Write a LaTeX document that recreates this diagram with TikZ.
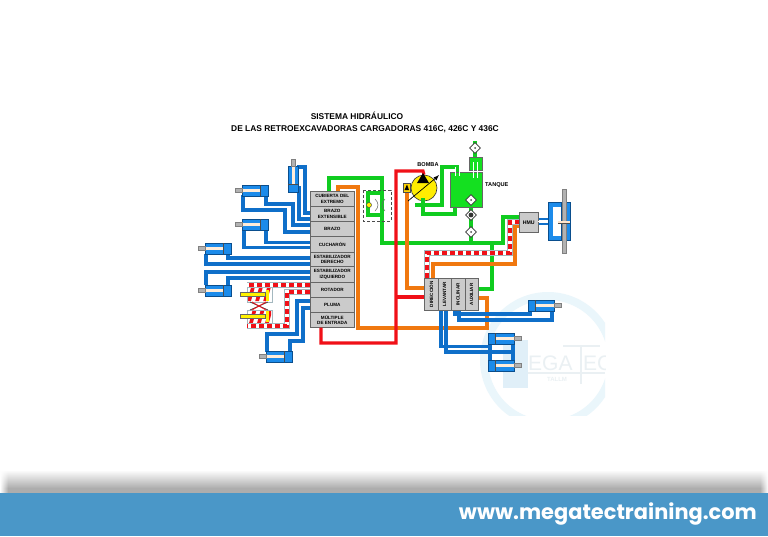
\documentclass[tikz,border=0pt]{standalone}
\usepackage{fontspec}
\setmainfont{Liberation Sans}
\newfontfamily\webfont{Poppins}
\usetikzlibrary{shapes.geometric,fadings}
\definecolor{hblue}{HTML}{0F6FC9}
\definecolor{cblue}{HTML}{1C8BEA}
\definecolor{hgreen}{HTML}{10CC20}
\definecolor{tankg}{HTML}{14E020}
\definecolor{hred}{HTML}{F01018}
\definecolor{horange}{HTML}{F0780F}
\definecolor{hgrey}{HTML}{CBCBCB}
\definecolor{band}{HTML}{4A97C8}
\definecolor{wmark}{HTML}{EAF6FB}
\definecolor{wmtext}{HTML}{EAF0F3}
\definecolor{wmbox}{HTML}{E0EFF8}
\definecolor{hatchedge}{HTML}{A4B8BF}
\tikzset{
  x=1pt,y=-1pt,
  pipe/.style={line width=3.1pt,line join=miter},
  bluepipe/.style={pipe,hblue},
  greenpipe/.style={pipe,hgreen},
  redpipe/.style={pipe,hred},
  orangepipe/.style={pipe,horange},
  hatchout/.style={line width=5.4pt,color=hatchedge},
  hatchin/.style={line width=3.4pt,white},
  hatchred/.style={line width=3.4pt,hred,dash pattern=on 5pt off 3pt},
  rowbox/.style={draw=black!60,line width=.6pt,fill=hgrey,minimum width=44pt,anchor=north west,inner sep=0pt,align=center,font=\fontsize{4.6}{5.6}\selectfont\bfseries},
  colbox/.style={draw=black!60,line width=.6pt,fill=hgrey,minimum width=13.5pt,minimum height=32pt,anchor=north west,inner sep=0pt},
  coltext/.style={rotate=90,font=\fontsize{4.6}{5}\selectfont\bfseries,inner sep=0pt},
  cylb/.style={draw=hblue!70!black,line width=.6pt,fill=cblue,anchor=north west,inner sep=0pt},
  filter/.style={diamond,draw=black!80,line width=.7pt,fill=white,minimum size=11pt,inner sep=0pt},
  lbl/.style={font=\fontsize{5.6}{6}\selectfont\bfseries,inner sep=0pt},
}
% horizontal cylinder, rod leaving to the left: name, x, y of the body
\newcommand\cylL[3]{%
  \node[cylb,minimum width=26pt,minimum height=11pt] (#1) at (#2,#3) {};
  \fill[white!85!orange] (#2-1,#3+4) rectangle (#2+18,#3+7);
  \fill[black!70] (#2+18,#3) rectangle (#2+19,#3+11);
  \fill[gray!60] (#2-7,#3+3.5) rectangle (#2,#3+7.5);
  \draw[black!50,line width=.3pt] (#2-7,#3+3.5) rectangle (#2,#3+7.5);
}
% horizontal cylinder, rod leaving to the right
\newcommand\cylR[3]{%
  \node[cylb,minimum width=26pt,minimum height=11pt] (#1) at (#2,#3) {};
  \fill[white!85!orange] (#2+8,#3+4) rectangle (#2+27,#3+7);
  \fill[black!70] (#2+7,#3) rectangle (#2+8,#3+11);
  \fill[gray!60] (#2+26,#3+3.5) rectangle (#2+33,#3+7.5);
  \draw[black!50,line width=.3pt] (#2+26,#3+3.5) rectangle (#2+33,#3+7.5);
}
\newcommand\hatchline[1]{%
  \draw[hatchout] #1;
  \draw[hatchin] #1;
  \draw[hatchred] #1;
}
\begin{document}
\begin{tikzpicture}
\useasboundingbox (0,0) rectangle (768,536);
\fill[white] (0,0) rectangle (768,536);

% watermark
\begin{scope}
\clip (470,280) rectangle (605,415);
\draw[wmark,line width=8pt] (548,360) circle[radius=64];
\fill[wmbox] (503,340) rectangle (528,388);
\node[wmtext,font=\fontsize{21}{21}\selectfont,anchor=west,inner sep=0pt] (wm1) at (528,363) {EGA};
\node[wmtext,font=\fontsize{21}{21}\selectfont,anchor=west,inner sep=0pt] (wm2) at (583,363) {EC};
\fill[wmtext] (563,345) rectangle (600,347);
\fill[wmtext] (580,347) rectangle (582,384);
\fill[wmtext] (528,372) rectangle (605,374);
\node[wmtext,font=\fontsize{6}{6}\selectfont\bfseries,inner sep=0pt] (wm3) at (557,379) {TALLM};
\end{scope}

% title
\node[font=\fontsize{8.4}{9}\selectfont\bfseries,inner sep=0pt] (t1) at (357,116) {SISTEMA HIDRÁULICO};
\node[font=\fontsize{8.4}{9}\selectfont\bfseries,inner sep=0pt] (t2) at (365,129) {DE LAS RETROEXCAVADORAS CARGADORAS 416C, 426C Y 436C};

% main valve block
\node[rowbox,minimum height=15pt] (r1) at (310,191) {CUBIERTA DEL\\EXTREMO};
\node[rowbox,minimum height=15pt] (r2) at (310,206) {BRAZO\\EXTENSIBLE};
\node[rowbox,minimum height=15pt] (r3) at (310,221) {BRAZO};
\node[rowbox,minimum height=16pt] (r4) at (310,236) {CUCHARÓN};
\node[rowbox,minimum height=14pt] (r5) at (310,252) {ESTABILIZADOR\\DERECHO};
\node[rowbox,minimum height=16pt] (r6) at (310,266) {ESTABILIZADOR\\IZQUIERDO};
\node[rowbox,minimum height=15pt] (r7) at (310,282) {ROTADOR};
\node[rowbox,minimum height=15pt] (r8) at (310,297) {PLUMA};
\node[rowbox,minimum height=15pt] (r9) at (310,312) {MÚLTIPLE\\DE ENTRADA};

% loader valve block
\node[colbox] (d1) at (424,278) {};
\node[colbox] (d2) at (437.5,278) {};
\node[colbox] (d3) at (451,278) {};
\node[colbox] (d4) at (464.5,278) {};
\node[coltext] (d1t) at (d1.center) {DIRECCIÓN};
\node[coltext] (d2t) at (d2.center) {LEVANTAR};
\node[coltext] (d3t) at (d3.center) {INCLINAR};
\node[coltext] (d4t) at (d4.center) {AUXILIAR};

% tank and pump
\node[draw=black!60,line width=.5pt,fill=tankg,minimum width=32pt,minimum height=35pt,anchor=north west,inner sep=0pt] (tank) at (450,172) {};
\node[draw=black!60,line width=.5pt,fill=tankg,minimum width=13pt,minimum height=13pt,anchor=north west,inner sep=0pt] (breath) at (469,157) {};
\node[circle,draw=black!80,line width=.6pt,fill=yellow!95!orange,minimum size=26pt,inner sep=0pt] (pump) at (424,188) {};
\node[draw=black!70,line width=.5pt,fill=yellow!70!orange,minimum width=7pt,minimum height=9pt,anchor=north west,inner sep=0pt] (aux) at (403,183) {};
\node[draw=black!60,line width=.6pt,fill=hgrey,minimum width=19pt,minimum height=20pt,anchor=north west,inner sep=0pt,font=\fontsize{5.2}{6}\selectfont\bfseries] (hmu) at (519,212) {HMU};

% green lines
\draw[greenpipe] (r1.north -| 329,0) -- (329,178) -- (382,178) -- (382,243) -- (503,243) -- (503,217) -- (hmu.west |- 0,217);
\draw[greenpipe] (492,243) -- (492,289) -- (d4.east |- 0,289);
\draw[greenpipe] (382,193) -- (368,193) -- (368,215) -- (382,215);
\draw[greenpipe] (415,205) -- (442,205) -- (442,167) -- (457,167) -- (tank.north -| 457,0);
\draw[greenpipe] (423,198) -- (423,214) -- (455,214) -- (tank.south -| 455,0);
\draw[greenpipe] (471,243) -- (tank.south -| 471,0);
\draw[greenpipe] (475,141) -- (breath.north -| 475,0);
\draw[white,line width=.8pt] (455,167) -- (455,176) (459,167) -- (459,176);
\draw[white,line width=.8pt] (473,162) -- (473,178) (477,162) -- (477,178);

% orange lines
\draw[orangepipe] (r1.north -| 338,0) -- (338,187) -- (358,187) -- (358,328) -- (487,328) -- (487,298) -- (d4.east |- 0,298);
\draw[orangepipe] (aux.south -| 407,0) -- (407,288) -- (d1.west |- 0,288);
\draw[orangepipe] (d1.north -| 433,0) -- (433,264) -- (515,264) -- (515,226) -- (hmu.west |- 0,226);

% hatched line to steering
\hatchline{(d1.north -| 427,0) -- (427,253) -- (510,253) -- (510,222) -- (hmu.west |- 0,222)}

% red lines
\draw[redpipe] (r9.south -| 321,0) -- (321,343) -- (396,343) -- (396,171) -- (423,171) -- (pump.north);
\draw[redpipe] (396,297) -- (d1.west |- 0,297);

% blue lines and cylinders, left of the block
\draw[bluepipe] (297,167) -- (305,167) -- (305,213) -- (r2.west |- 0,213);
\draw[bluepipe] (297,188) -- (299,188) -- (299,219) -- (r2.west |- 0,219);
\draw[bluepipe] (266,195) -- (266,204) -- (293,204) -- (293,225) -- (r3.west |- 0,225);
\draw[bluepipe] (243,195) -- (243,210) -- (285,210) -- (285,232) -- (r3.west |- 0,232);
\draw[bluepipe] (266,230) -- (266,242.5) -- (r4.west |- 0,242.5);
\draw[bluepipe] (244,230) -- (244,247.5) -- (r4.west |- 0,247.5);
\draw[bluepipe] (228,254) -- (228,258) -- (r5.west |- 0,258);
\draw[bluepipe] (206,254) -- (206,264) -- (r5.west |- 0,264);
\draw[bluepipe] (206,285) -- (206,272) -- (r6.west |- 0,272);
\draw[bluepipe] (228,285) -- (228,278) -- (r6.west |- 0,278);
\draw[bluepipe] (r8.west |- 0,301) -- (297,301) -- (297,334) -- (267,334) -- (267,352);
\draw[bluepipe] (r8.west |- 0,308) -- (303,308) -- (303,341) -- (290,341) -- (290,352);

\cylL{c2}{242}{185}
\cylL{c3}{242}{219}
\cylL{c4}{205}{243}
\cylL{c5}{205}{285}
\cylL{c6}{266}{351}

% vertical cylinder with the rod on top
\node[cylb,minimum width=10pt,minimum height=26pt] (c1) at (288,166) {};
\fill[white!85!orange] (291.5,165) rectangle (294.5,184);
\fill[black!70] (288,184) rectangle (298,185);
\fill[gray!60] (291,159) rectangle (295,166);
\draw[black!50,line width=.3pt] (291,159) rectangle (295,166);

% blue lines to the right
\draw[bluepipe] (d2.south -| 441,0) -- (441,346.5) -- (490,346.5);
\draw[bluepipe] (d2.south -| 446,0) -- (446,352) -- (513,352);
\draw[bluepipe] (490,344) -- (490,361);
\draw[bluepipe] (513,344) -- (513,361);
\draw[bluepipe] (d3.south -| 455,0) -- (455,314) -- (530,314) -- (530,310);
\draw[bluepipe] (d3.south -| 459,0) -- (459,320) -- (552,320) -- (552,310);
\cylR{c7}{488}{333}
\cylR{c8}{488}{360}
\cylR{c9}{528}{300}

% steering cylinder
\draw[bluepipe,line width=2.5pt] (hmu.east |- 0,219) -- (551,219);
\draw[bluepipe,line width=2.5pt] (hmu.east |- 0,224) -- (551,224);
\fill[white] (538,221) rectangle (550,222);
\node[cylb,minimum width=13pt,minimum height=38pt] (s1) at (548,202) {};
\node[cylb,minimum width=5pt,minimum height=38pt] (s2) at (565,202) {};
\fill[white] (552.5,207) rectangle (561,236);
\fill[gray!60] (562.5,189) rectangle (566.5,253);
\draw[black!50,line width=.3pt] (562.5,189) rectangle (566.5,253);
\fill[white!80!orange] (558,220.5) rectangle (570,222.5);
\fill[black!70] (558,222.5) rectangle (570,223);

% filters
\node[filter] (f1) at (471,200) {};
\node[filter] (f2) at (471,215) {};
\node[filter] (f3) at (471,232) {};
\node[filter] (f4) at (475,148) {};
\foreach \n in {f1,f3,f4} \fill[black!70] (\n.center) circle[radius=1];
\fill[black!80] (f2.center) circle[radius=2.4];

% pump details
\fill[black] (423,173) -- (417,183) -- (429,183) -- cycle;
\draw[black,line width=.7pt] (408,201) -- (437,177);
\draw[black,line width=.9pt,-latex] (436,178) -- (439,175);
\fill[black] (407,184.5) -- (404.5,190) -- (409,190) -- cycle;
\node[lbl] (bomba) at (428,165) {BOMBA};
\node[lbl,anchor=west] (tanque) at (485,185) {TANQUE};

% small valve
\draw[black!70,line width=.7pt,dash pattern=on 3pt off 2pt] (363,190) rectangle (391,221);
\node[circle,draw=black!70,line width=.5pt,fill=yellow,minimum size=5pt,inner sep=0pt] (v1) at (369,205) {};
\draw[black!60,line width=.5pt] (375,199) .. controls (379,203) and (379,207) .. (375,211);
\draw[black!60,line width=.5pt] (385,199) .. controls (381,203) and (381,207) .. (385,211);

% rotator
\node[draw=hatchedge,line width=.7pt,fill=white,minimum width=25pt,minimum height=17pt,anchor=north west,inner sep=0pt] (rc1) at (247,285) {};
\node[draw=hatchedge,line width=.7pt,fill=white,minimum width=25pt,minimum height=16pt,anchor=north west,inner sep=0pt] (rc2) at (247,310) {};
\begin{scope}
\clip (248,286) rectangle (271,301) (248,311) rectangle (271,325);
\foreach \i in {0,8,...,72} \draw[hred,line width=3.6pt] (225+\i,330) -- (225+\i+14,280);
\end{scope}
\draw[black!70,line width=.8pt] (250,302) -- (268,310) (268,302) -- (250,310);
\draw[hred,line width=.8pt] (252,302) -- (266,310) (266,302) -- (252,310);
\fill[yellow] (240,292) rectangle (267,296);
\fill[yellow] (240,314) rectangle (267,318);
\fill[yellow] (265.5,290) rectangle (268.5,301);
\fill[yellow] (265.5,311) rectangle (268.5,322);
\draw[black!60,line width=.3pt] (240,292) rectangle (265,296) (240,314) rectangle (265,318);
\hatchline{(r7.west |- 0,285) -- (247,285)}
\hatchline{(r7.west |- 0,292) -- (287,292) -- (287,326) -- (247,326)}

% footer
\shade[top color=white,bottom color=black!32] (0,470) rectangle (768,488);
\fill[black!32] (0,488) rectangle (768,493);
\fill[white,path fading=east] (0,468) rectangle (8,493);
\fill[white,path fading=west] (760,468) rectangle (768,493);
\fill[band] (0,493) rectangle (768,536);
\node[white,anchor=east,inner sep=0pt,font=\webfont\fontsize{20.9}{22}\selectfont\bfseries] (web) at (757,514) {www.megatectraining.com};
\end{tikzpicture}
\end{document}
